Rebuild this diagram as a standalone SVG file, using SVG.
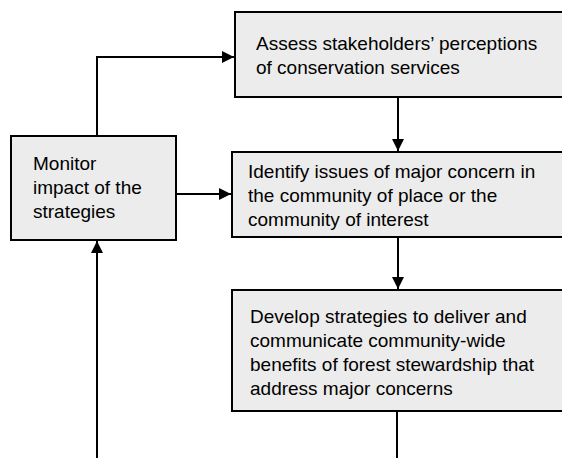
<svg xmlns="http://www.w3.org/2000/svg" width="562" height="458" viewBox="0 0 562 458">
<defs>
<style>
.box{fill:#ececec;stroke:#000;stroke-width:2}
.t{font-family:"Liberation Sans",Arial,sans-serif;font-size:19px;fill:#000}
.c{fill:none;stroke:#000;stroke-width:2}
</style>
<marker id="ah" viewBox="0 0 12 12" refX="12" refY="6" markerWidth="12" markerHeight="12" markerUnits="userSpaceOnUse" orient="auto">
<path d="M0,0 L12,6 L0,12 z" fill="#000"/>
</marker>
</defs>
<rect width="562" height="458" fill="#fff"/>
<g id="assess">
<rect class="box" x="235" y="12" width="340" height="85"/>
<text class="t" x="256" y="50">Assess stakeholders’ perceptions</text>
<text class="t" x="256" y="74">of conservation services</text>
</g>
<g id="identify">
<rect class="box" x="232" y="152" width="340" height="85"/>
<text class="t" x="248" y="178">Identify issues of major concern in</text>
<text class="t" x="248" y="202">the community of place or the</text>
<text class="t" x="248" y="226">community of interest</text>
</g>
<g id="develop">
<rect class="box" x="232" y="290" width="340" height="121"/>
<text class="t" x="250" y="323">Develop strategies to deliver and</text>
<text class="t" x="250" y="347">communicate community-wide</text>
<text class="t" x="250" y="371">benefits of forest stewardship that</text>
<text class="t" x="250" y="395">address major concerns</text>
</g>
<g id="monitor">
<rect class="box" x="11" y="136" width="165" height="104"/>
<text class="t" x="33" y="170">Monitor</text>
<text class="t" x="33" y="194">impact of the</text>
<text class="t" x="33" y="218">strategies</text>
</g>
<g id="connectors">
<path class="c" d="M97,136 V57 H234" marker-end="url(#ah)"/>
<path class="c" d="M176,194 H231" marker-end="url(#ah)"/>
<path class="c" d="M398,97 V151" marker-end="url(#ah)"/>
<path class="c" d="M398,237 V289" marker-end="url(#ah)"/>
<path class="c" d="M397,411 V458"/>
<path class="c" d="M97,458 V241" marker-end="url(#ah)"/>
</g>
</svg>
